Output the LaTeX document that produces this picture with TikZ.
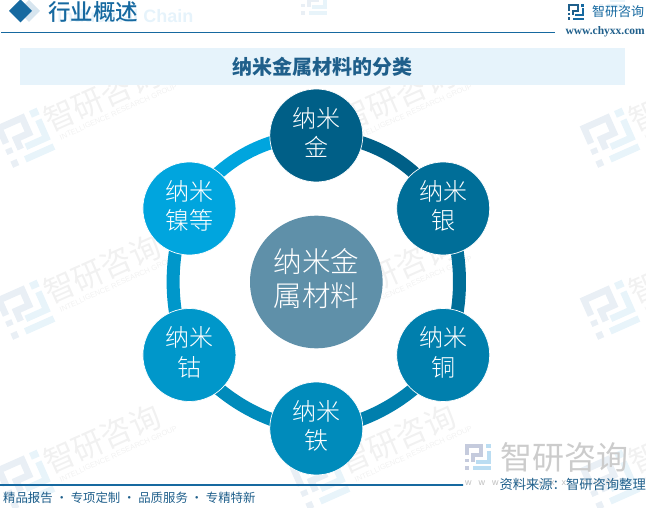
\documentclass[tikz,border=0pt]{standalone}
\usepackage{fontspec}
\usepackage{tikz}
\usetikzlibrary{backgrounds}
\setmainfont{Noto Sans CJK SC}
\newfontfamily\lightfont{Noto Sans CJK SC Light}
\newfontfamily\mediumfont{Noto Sans CJK SC Medium}
\newfontfamily\urlfont{Liberation Serif}
\newfontfamily\latinfont{Liberation Sans}
\definecolor{headblue}{HTML}{1669A0}
\definecolor{titleblue}{HTML}{1F5F8B}
\definecolor{bannerblue}{HTML}{E6F3FB}
\definecolor{jincol}{HTML}{005F87}
\definecolor{yincol}{HTML}{006E98}
\definecolor{tongcol}{HTML}{007FAD}
\definecolor{tiecol}{HTML}{008BBB}
\definecolor{gucol}{HTML}{0097CA}
\definecolor{niecol}{HTML}{00A5DE}
\definecolor{maincol}{HTML}{5F90A9}
\definecolor{wmlogoa}{HTML}{E9EFF5}
\definecolor{wmlogob}{HTML}{E8F4FA}
\definecolor{wmtext}{HTML}{F1F1F1}
\definecolor{biglogoa}{HTML}{C5CBDD}
\definecolor{biglogob}{HTML}{BBDDF2}
\tikzset{
  metal/.style={circle,draw=white,line width=0.7pt,minimum size=93pt,inner sep=0pt,
    text=white,align=center,text depth=7pt,font=\lightfont\fontsize{24}{29.5}\selectfont},
  ringarc/.style={line width=13pt,bend left=30,looseness=0.91},
}
\newcommand{\logomark}[5]{%
  \begin{scope}[shift={(#1,#2)},scale=#3,transform shape,line width=#3*2.4pt]
    \draw[#4] (-7,1)--(-7,7)--(2,7)--(2,1)--(-3,1)--(-3,-3);
    \draw[#4] (-7,-3)--(-7,-1);
    \fill[#4] (-8.2,-8) rectangle (-5.8,-5.6);
    \fill[#5] (5.2,8.2) rectangle (8.2,5.6);
    \draw[#5] (7,4)--(7,-3)--(-1,-3);
    \draw[#5] (-3,-7)--(8.2,-7);
  \end{scope}}
\newcommand{\wmark}[2]{%
  \begin{scope}[shift={(#1,#2)},rotate=24,transform shape]
    \logomark{0}{0}{2.8}{wmlogoa}{wmlogob}
    \node[anchor=west,text=wmtext,inner sep=0pt,font=\fontsize{31}{31}\selectfont] at (25,6) {智研咨询};
    \node[anchor=west,text=wmtext,inner sep=0pt,font=\latinfont\fontsize{7.5}{7.5}\selectfont] at (32,-14) {INTELLIGENCE RESEARCH GROUP};
  \end{scope}}
\begin{document}
\begin{tikzpicture}[x=1pt,y=1pt]
  \useasboundingbox (0,0) rectangle (646,507);
  \begin{scope}[on background layer]
    \clip (0,0) rectangle (646,507);
    \foreach \wx in {25,320,610} {
      \foreach \wy in {369,197,27} {
        \wmark{\wx}{\wy}
      }
    }
    \logomark{314}{505}{1.6}{wmlogoa}{wmlogob}
    \logomark{612}{512}{1.6}{wmlogoa}{wmlogob}
  \end{scope}

  \node[text=bannerblue,font=\latinfont\bfseries\fontsize{18}{18}\selectfont,anchor=east] (chain) at (197,491) {Industrial Chain};
  \fill[headblue!17] (29,507) -- (40,496) -- (29,485) -- (18,496) -- cycle;
  \fill[headblue] (20.5,507.5) -- (32,496) -- (20.5,484.5) -- (9,496) -- cycle;
  \node[text=headblue,anchor=west,inner sep=0pt,font=\mediumfont\fontsize{22.5}{22.5}\selectfont] (head) at (48,495) {行业概述};
  \draw[headblue,line width=0.8pt] (1,474.5) -- (555,474.5);

  \logomark{576}{495}{0.95}{titleblue}{headblue}
  \node[text=headblue,anchor=west,inner sep=0pt,font=\fontsize{13}{13}\selectfont] (brand) at (592,495) {智研咨询};
  \node[text=titleblue,anchor=east,inner sep=0pt,font=\urlfont\bfseries\fontsize{11.5}{11.5}\selectfont] (site) at (645,475) {www.chyxx.com};

  \node[fill=bannerblue,minimum width=605pt,minimum height=37pt,inner sep=0pt,text=titleblue,
    font=\bfseries\fontsize{20}{20}\selectfont] (title) at (322.5,440.5) {纳米金属材料的分类};

  \node[metal,fill=jincol] (jin) at (316.3,371.5) {纳米\\金};
  \node[metal,fill=yincol] (yin) at (443.2,298.5) {纳米\\银};
  \node[metal,fill=tongcol] (tong) at (443.2,152) {纳米\\铜};
  \node[metal,fill=tiecol] (tie) at (316.3,78.5) {纳米\\铁};
  \node[metal,fill=gucol] (gu) at (189.4,152) {纳米\\钴};
  \node[metal,fill=niecol] (nie) at (189.4,298.5) {纳米\\镍等};
  \node[circle,fill=maincol,minimum size=132.6pt,inner sep=0pt,text=white,align=center,text depth=9pt,
    font=\lightfont\fontsize{28.5}{33.5}\selectfont] (main) at (316.3,225) {纳米金\\属材料};

  \begin{scope}[on background layer]
    \draw[ringarc,jincol] (jin.center) to (yin.center);
    \draw[ringarc,looseness=0.76,yincol] (yin.center) to (tong.center);
    \draw[ringarc,looseness=0.8,tongcol] (tong.center) to (tie.center);
    \draw[ringarc,looseness=0.8,tiecol] (tie.center) to (gu.center);
    \draw[ringarc,looseness=0.76,gucol] (gu.center) to (nie.center);
    \draw[ringarc,niecol] (nie.center) to (jin.center);
  \end{scope}

  \logomark{478}{50}{1.6}{biglogoa}{biglogob}
  \node[text=black!20,anchor=west,inner sep=0pt,font=\fontsize{32}{32}\selectfont] (brandbig) at (500,50) {智研咨询};
  \node[text=black!25,anchor=west,inner sep=0pt,font=\latinfont\fontsize{9}{9}\selectfont] (sitebig) at (465,24) {w\hspace{7pt}w\hspace{7pt}w\hspace{7pt}.\hspace{7pt}c\hspace{7pt}h\hspace{7pt}y\hspace{7pt}x\hspace{7pt}x\hspace{7pt}.\hspace{7pt}c\hspace{7pt}o\hspace{7pt}m};

  \shade[left color=headblue,middle color=headblue!55,right color=headblue] (0,21.6) rectangle (463,22.6);
  \node[text=titleblue,anchor=east,inner sep=0pt,font=\fontsize{13.3}{13.3}\selectfont] (source) at (646,23) {资料来源：智研咨询整理};
  \node[text=titleblue,anchor=west,inner sep=0pt,font=\fontsize{12.4}{12.4}\selectfont] (slogan) at (3,9) {精品报告 · 专项定制 · 品质服务 · 专精特新};
\end{tikzpicture}
\end{document}
